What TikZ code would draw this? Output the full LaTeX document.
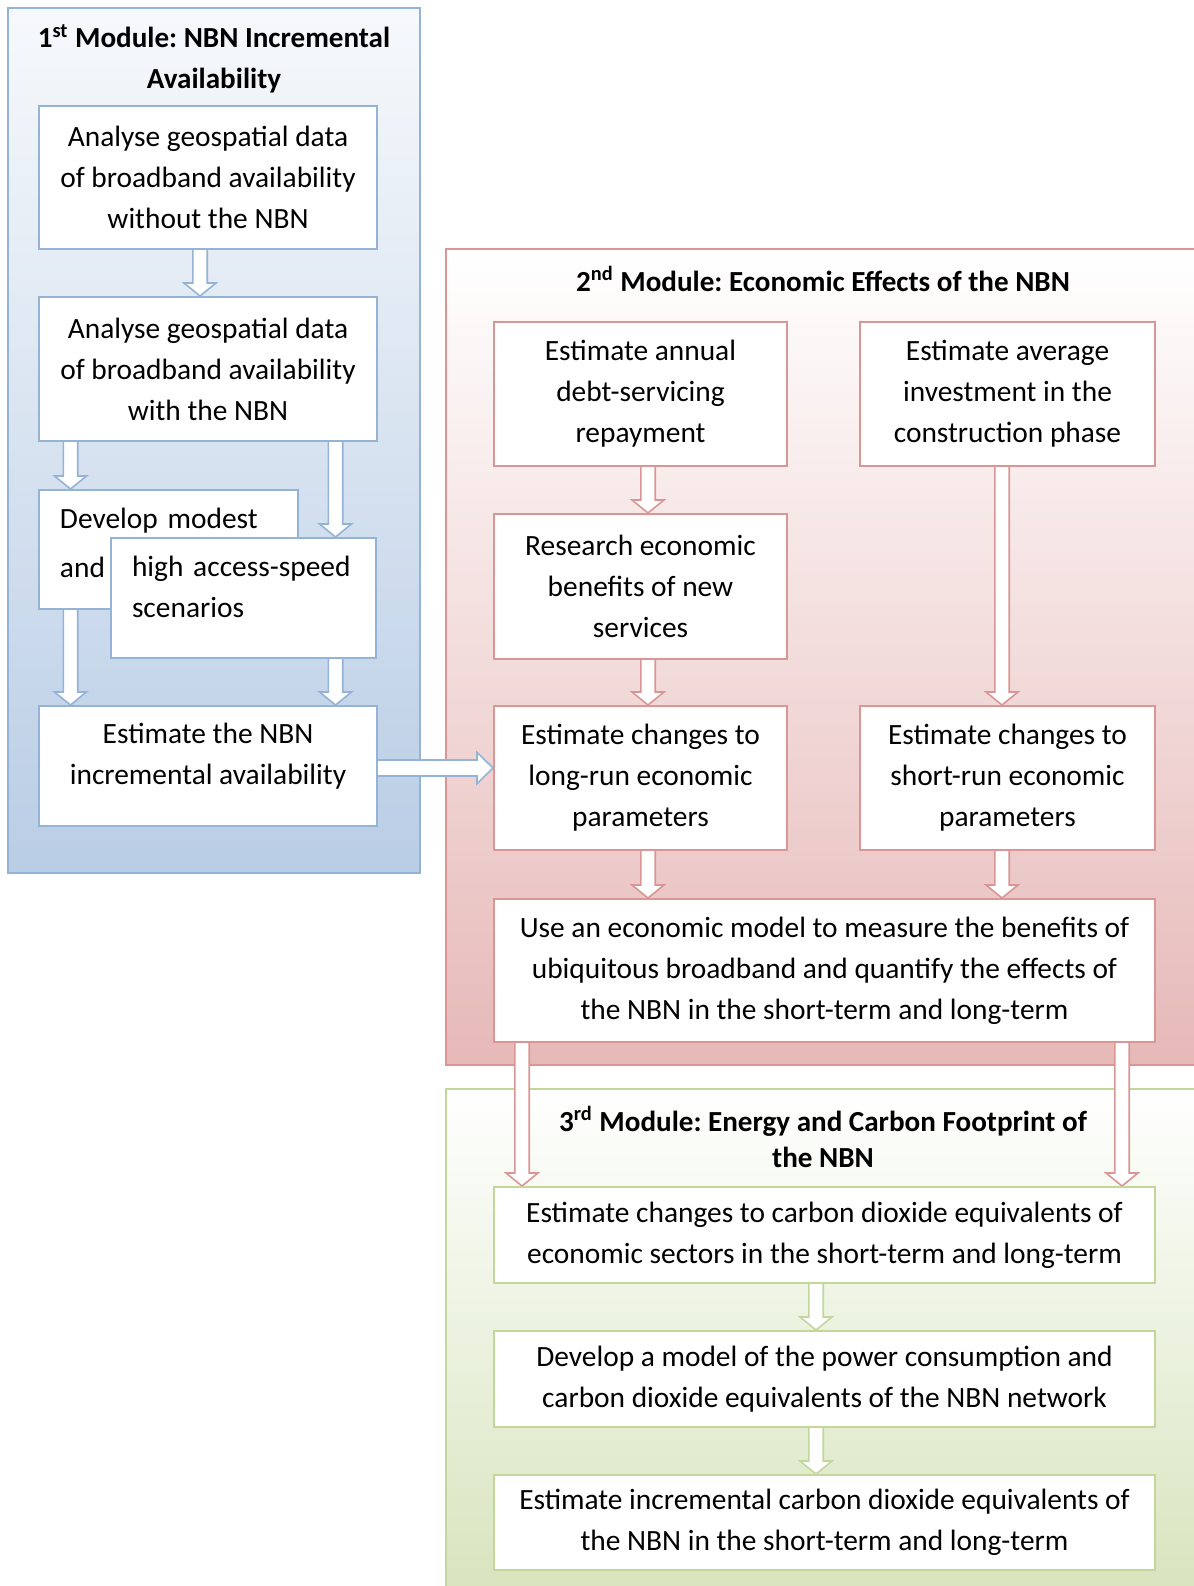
\documentclass[tikz,border=0pt]{standalone}
\usepackage{fontspec}
\setmainfont{Carlito}
\frenchspacing
\usepackage{tikz}
\usetikzlibrary{calc}
\usetikzlibrary{backgrounds}
\definecolor{bluefill}{HTML}{B9CDE5}
\definecolor{blueline}{HTML}{95B3D7}
\definecolor{redfill}{HTML}{E6B9B8}
\definecolor{redline}{HTML}{D99694}
\definecolor{greenfill}{HTML}{D7E4BD}
\definecolor{greenline}{HTML}{C3D69B}
\tikzset{every node/.style={font=\fontsize{14.7}{20.5}\selectfont},
 stepbox/.style={draw,fill=white,line width=1pt,align=center,anchor=north west,inner sep=0pt},
 bluebox/.style={stepbox,draw=blueline},
 redbox/.style={stepbox,draw=redline},
 greenbox/.style={stepbox,draw=greenline},
 modframe/.style={line width=1pt},
 modtitle/.style={font=\fontsize{14.55}{20.5}\selectfont\bfseries,align=center},
 blockarrow/.style={fill=white,line width=0.8pt,line join=miter},
 }
\newcommand{\vblock}[4]{%
  \draw[blockarrow,draw=#1] let \p1=(#2,0 |- #3.south), \p2=(#2,0 |- #4.north) in
    (\x1-3.6pt,\y1) -- (\x1-3.6pt,\y2+6.5pt) -- (\x1-8pt,\y2+6.5pt) -- (\x1,\y2)
    -- (\x1+8pt,\y2+6.5pt) -- (\x1+3.6pt,\y2+6.5pt) -- (\x1+3.6pt,\y1);}
\newcommand{\hblock}[4]{%
  \draw[blockarrow,draw=#1] let \p1=(#3.east |- 0,#2), \p2=(#4.west |- 0,#2) in
    (\x1,\y1+4pt) -- (\x2-8pt,\y1+4pt) -- (\x2-8pt,\y1+7.8pt) -- (\x2,\y1)
    -- (\x2-8pt,\y1-7.8pt) -- (\x2-8pt,\y1-4pt) -- (\x1,\y1-4pt);}
\newcommand{\upby}[2]{\raisebox{#1}[\height][\depth]{\begin{tabular}{@{}l@{}}#2\end{tabular}}}

\begin{document}
\begin{tikzpicture}[x=0.5pt,y=-0.5pt]
    \useasboundingbox (0,0) rectangle (1194,1586);
    \begin{scope}[on background layer]
        \shadedraw[modframe,draw=blueline,top color=bluefill!12,bottom color=bluefill] (8,8) rectangle (420,873);
        \shadedraw[modframe,draw=redline,top color=white,bottom color=redfill] (446,249) rectangle (1198,1065);
        \shadedraw[modframe,draw=greenline,top color=white,bottom color=greenfill] (446,1089) rectangle (1198,1600);
    \end{scope}

    \node[modtitle] (firsttitle) at (214,59) {1\textsuperscript{st} Module: NBN Incremental\\Availability};
    \node[modtitle] (secondtitle) at (823,279) {2\textsuperscript{nd} Module: Economic Effects of the NBN};
    \node[modtitle] (thirdtitle) at (823,1137) {3\textsuperscript{rd} Module: Energy and Carbon Footprint of\\[-2.5pt]the NBN};

    \node[bluebox,minimum width=169pt,minimum height=71.5pt] (nowithout) at (38,105)
        {Analyse geospatial data\\of broadband availability\\without the NBN};
    \node[bluebox,minimum width=169pt,minimum height=72pt] (nowith) at (38,296)
        {Analyse geospatial data\\of broadband availability\\with the NBN};
    \node[bluebox,minimum width=129.5pt,minimum height=59.5pt,text width=108.5pt,align=left] (modest) at (38,489)
        {\upby{2.5pt}{Develop modest\\[3.8pt]and}};
    \node[bluebox,minimum width=132.5pt,minimum height=60pt,text width=111.5pt,align=left] (highspeed) at (110,537)
        {\upby{4.5pt}{high access-speed\\scenarios}};
    \node[bluebox,minimum width=169pt,minimum height=60pt] (availability) at (38,705)
        {\upby{5pt}{\hfil Estimate the NBN\hfil\\incremental availability}};

    \node[redbox,minimum width=146.5pt,minimum height=72pt] (repayment) at (493,321)
        {Estimate annual\\debt-servicing\\repayment};
    \node[redbox,minimum width=147.5pt,minimum height=72pt] (investment) at (859,321)
        {Estimate average\\investment in the\\construction phase};
    \node[redbox,minimum width=146.5pt,minimum height=72.5pt] (benefits) at (493,513)
        {Research economic\\benefits of new\\services};
    \node[redbox,minimum width=146.5pt,minimum height=72pt] (longrun) at (493,705)
        {Estimate changes to\\long-run economic\\parameters};
    \node[redbox,minimum width=147.5pt,minimum height=72pt] (shortrun) at (859,705)
        {Estimate changes to\\short-run economic\\parameters};
    \node[redbox,minimum width=330.5pt,minimum height=71.5pt] (econmodel) at (493,898)
        {Use an economic model to measure the benefits of\\ubiquitous broadband and quantify the effects of\\the NBN in the short-term and long-term};

    \node[greenbox,minimum width=330.5pt,minimum height=48pt] (sectors) at (493,1186)
        {Estimate changes to carbon dioxide equivalents of\\economic sectors in the short-term and long-term};
    \node[greenbox,minimum width=330.5pt,minimum height=48pt] (power) at (493,1330)
        {Develop a model of the power consumption and\\carbon dioxide equivalents of the NBN network};
    \node[greenbox,minimum width=330.5pt,minimum height=47.5pt] (incremental) at (493,1474)
        {Estimate incremental carbon dioxide equivalents of\\the NBN in the short-term and long-term};

    \begin{scope}[on background layer]
        \vblock{blueline}{200}{nowithout}{nowith}
        \vblock{blueline}{70.5}{nowith}{modest}
        \vblock{blueline}{335.5}{nowith}{highspeed}
        \vblock{blueline}{70.5}{modest}{availability}
        \vblock{blueline}{335.5}{highspeed}{availability}
        \hblock{blueline}{768}{availability}{longrun}
        \vblock{redline}{648}{repayment}{benefits}
        \vblock{redline}{1002}{investment}{shortrun}
        \vblock{redline}{648}{benefits}{longrun}
        \vblock{redline}{648}{longrun}{econmodel}
        \vblock{redline}{1002}{shortrun}{econmodel}
        \vblock{redline}{522}{econmodel}{sectors}
        \vblock{redline}{1122}{econmodel}{sectors}
        \vblock{greenline}{816}{sectors}{power}
        \vblock{greenline}{816}{power}{incremental}
    \end{scope}
\end{tikzpicture}
\end{document}
